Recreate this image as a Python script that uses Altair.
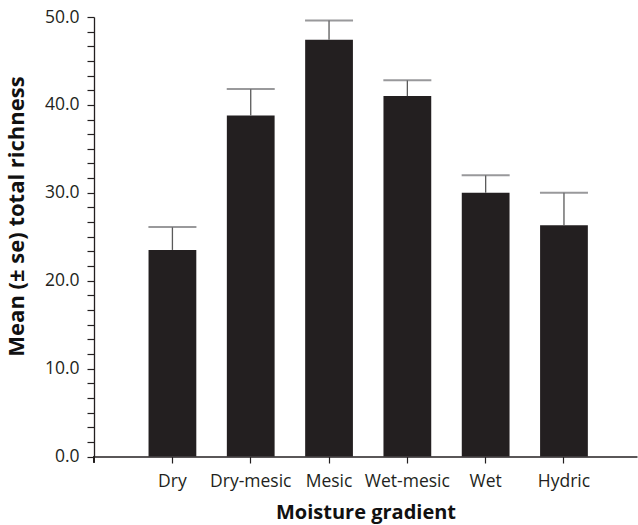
import altair as alt
import pandas as pd

categories = ["Dry", "Dry-mesic", "Mesic", "Wet-mesic", "Wet", "Hydric"]
means = [23.5, 38.8, 47.4, 41.0, 30.0, 26.3]
se = [2.6, 3.0, 2.2, 1.8, 2.0, 3.7]

df = pd.DataFrame({"cat": categories, "mean": means, "se": se})
df["upper"] = df["mean"] + df["se"]

FONT = "Open Sans"
W = 543
H = 439.5

ytick_values = [i * 10 / 6 for i in range(31)]

xscale = alt.Scale(domain=categories, paddingInner=0.39, paddingOuter=0.662, align=0.526)
yscale = alt.Scale(domain=[0, 50], nice=False, zero=True)

xenc = alt.X(
    "cat:N",
    scale=xscale,
    sort=categories,
    axis=alt.Axis(
        title="Moisture gradient",
        labelAngle=0,
        labelFont=FONT,
        labelFontSize=17.5,
        labelColor="#231f20",
        labelBaseline="alphabetic",
        labelPadding=23,
        tickSize=6.5,
        tickColor="#231f20",
        tickWidth=1.2,
        domainColor="#231f20",
        domainWidth=1.3,
        titleFont=FONT,
        titleFontSize=20,
        titleFontWeight="bold",
        titleColor="#111111",
        titleBaseline="alphabetic",
        titleY=62,
        titleX=W / 2,
        titleAlign="center",
        grid=False,
    ),
)

bars = alt.Chart(df).mark_bar(color="#231f20").encode(
    x=xenc,
    y=alt.Y(
        "mean:Q",
        scale=yscale,
        axis=alt.Axis(
            title="Mean (± se) total richness",
            values=ytick_values,
            tickCount=100,
            labelExpr="abs(datum.value - round(datum.value/10)*10) < 0.01 ? format(datum.value, '.1f') : ''",
            labelOverlap=False,
            labelFont=FONT,
            labelFontSize=17.5,
            labelColor="#231f20",
            labelPadding=8,
            tickSize=7,
            tickColor="#231f20",
            tickWidth=1.2,
            domainColor="#231f20",
            domainWidth=1.3,
            titleFont=FONT,
            titleFontSize=22,
            titleFontWeight="bold",
            titleColor="#111111",
            titleAngle=270,
            titleAlign="center",
            titleBaseline="alphabetic",
            titleX=-71,
            titleY=199,
            grid=False,
        ),
    ),
)

stems = alt.Chart(df).mark_rule(color="#5a5a5a", strokeWidth=1.3).encode(
    x=alt.X("cat:N", scale=xscale, sort=categories),
    y=alt.Y("mean:Q", scale=yscale),
    y2="upper:Q",
)

caps = alt.Chart(df).mark_tick(color="#6d6e71", thickness=2, size=48).encode(
    x=alt.X("cat:N", scale=xscale, sort=categories),
    y=alt.Y("upper:Q", scale=yscale),
)

ext = alt.Chart(df).mark_rule(color="#231f20", strokeWidth=1.3).encode(
    x=alt.value(0), y=alt.value(H), y2=alt.value(H + 6)
)

chart = (
    alt.layer(bars, stems, caps, ext)
    .properties(
        width=W,
        height=H,
        autosize=alt.AutoSizeParams(type="none"),
        padding={"left": 94, "top": 17, "right": 1, "bottom": 68},
        background="white",
    )
    .configure_view(stroke=None)
)

chart.save("out.html", embed_options={"renderer": "svg", "actions": False})
